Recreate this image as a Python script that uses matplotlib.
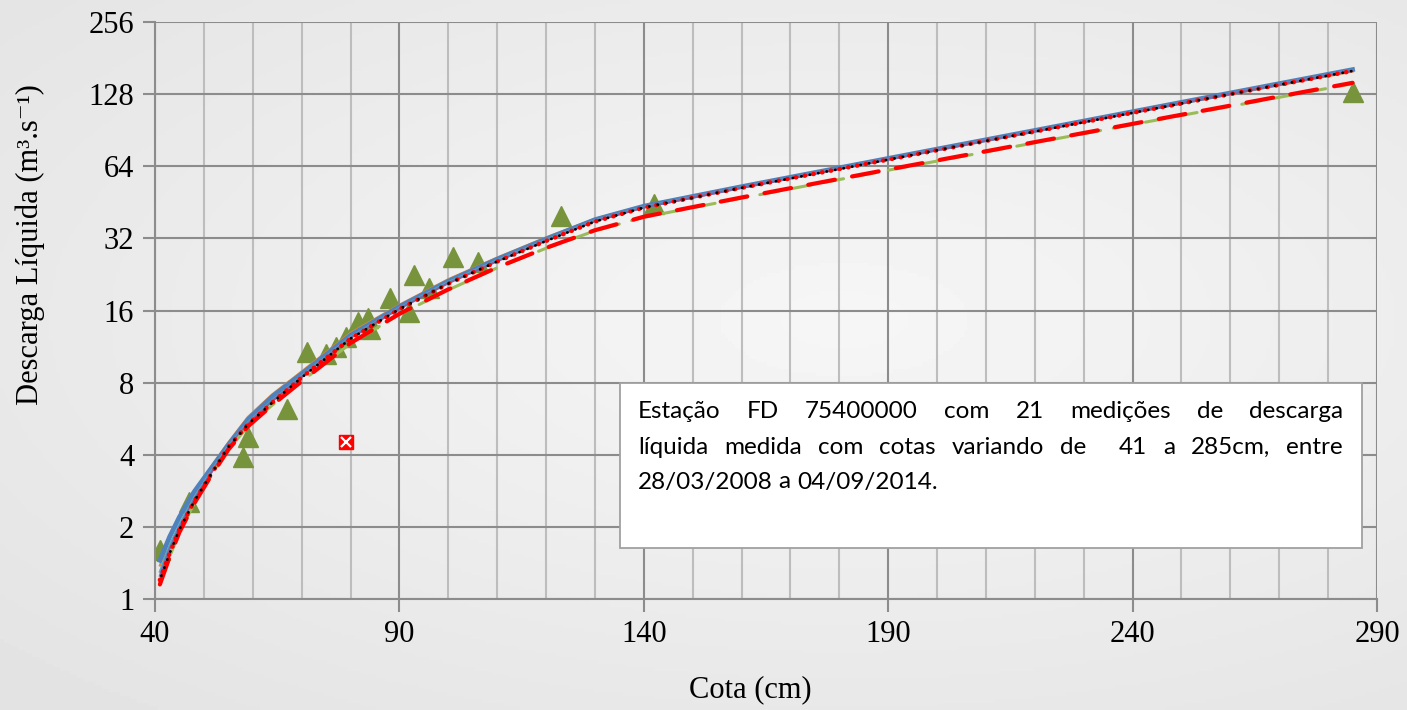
import numpy as np
import matplotlib.pyplot as plt
from matplotlib.patches import Rectangle

# measured discharges (cota cm, Q m3/s)
cota_med = [41, 47, 58, 59, 67, 71, 75, 77, 79, 81.5, 83.5, 84, 88, 92, 93, 96, 101, 106, 123, 142, 285]
q_med = [1.6, 2.55, 3.9, 4.75, 6.2, 10.7, 10.5, 11.3, 12.4, 14.3, 14.9, 13.4, 18.0, 15.8, 22.4, 19.9, 26.8, 25.5, 39.5, 44.5, 131]

# discarded measurement
cota_out = [79]
q_out = [4.5]

# rating curves
cota_curva = [41, 43, 45, 48, 51, 55, 59, 64, 70, 80, 90, 100, 110, 120, 130, 140, 160, 190, 220, 250, 285]
q_azul = [1.45, 1.82, 2.2, 2.8, 3.4, 4.4, 5.6, 7.0, 8.7, 12.6, 16.6, 21.2, 26.2, 31.8, 38.3, 43.6, 52.6, 69.0, 90.3, 118.3, 162]
q_laranja = [1.38, 1.78, 2.18, 2.8, 3.45, 4.5, 5.75, 7.15, 8.9, 12.9, 16.9, 21.6, 26.6, 32.3, 38.6, 43.8, 52.6, 68.6, 89.5, 117, 159]
q_ciano = [1.3, 1.68, 2.05, 2.65, 3.3, 4.35, 5.45, 6.75, 8.5, 12.4, 16.4, 21.0, 25.9, 31.5, 38.0, 43.3, 52.3, 68.6, 89.8, 117.8, 161]
q_roxo = [1.25, 1.62, 2.0, 2.6, 3.25, 4.3, 5.4, 6.7, 8.45, 12.3, 16.3, 20.8, 25.7, 31.3, 37.8, 43.1, 52.1, 68.4, 89.6, 117.5, 160.5]
q_verde = [1.16, 1.5, 1.9, 2.5, 3.15, 4.2, 5.25, 6.45, 8.1, 11.65, 15.4, 19.5, 24.1, 29.1, 34.4, 39.2, 47.1, 61.6, 80.2, 104.3, 141.5]
q_pontilhado = [1.2, 1.55, 1.95, 2.55, 3.2, 4.3, 5.35, 6.6, 8.4, 12.2, 16.2, 20.7, 25.6, 31.2, 37.6, 43.0, 52.0, 68.2, 89.3, 117, 160]
q_tracejado = [1.15, 1.5, 1.9, 2.5, 3.15, 4.2, 5.25, 6.45, 8.1, 11.7, 15.5, 19.6, 24.2, 29.2, 34.6, 39.4, 47.4, 62.0, 80.7, 105, 142.7]

xticks = [40, 90, 140, 190, 240, 290]
yticks = [1, 2, 4, 8, 16, 32, 64, 128, 256]

texto = ["Estação FD 75400000 com 21 medições de descarga",
         "líquida medida com cotas variando de  41 a 285cm, entre",
         "28/03/2008 a 04/09/2014."]

plt.rcParams['font.family'] = ['Liberation Serif', 'DejaVu Serif']

W, H = 1407, 710
fig = plt.figure(figsize=(W / 100, H / 100), dpi=100)

# soft gray background
bg = fig.add_axes([0, 0, 1, 1], zorder=-10)
yy, xx = np.mgrid[0:1:200j, 0:1:400j]
d = np.sqrt(((xx - 0.6) / 1.0) ** 2 + ((yy - 0.45) / 0.9) ** 2)
bg.imshow(0.965 - 0.09 * d, cmap='gray', vmin=0, vmax=1, aspect='auto', extent=[0, 1, 0, 1])
bg.set_axis_off()

ax = fig.add_axes([155 / W, 1 - 599 / H, (1377 - 155) / W, (599 - 22) / H])
ax.set_facecolor('none')

ax.plot(cota_curva, q_laranja, color='#E0883A', lw=1.6, zorder=3)
ax.plot(cota_curva, q_azul, color='#4F81BD', lw=3.4, zorder=4)
ax.plot(cota_curva, q_ciano, color='#4BACC6', lw=1.6, zorder=5)
ax.plot(cota_curva, q_roxo, color='#8064A2', lw=1.6, zorder=5)
ax.plot(cota_curva, q_verde, color='#9BBB59', lw=2.2, ls=(0, (6.5, 4.2)),
        dash_capstyle='round', zorder=5)
ax.plot(cota_curva, q_tracejado, color='#FF0000', lw=3.0, ls=(0, (6.5, 4.2)),
        dash_capstyle='round', zorder=6)
ax.plot(cota_curva, q_pontilhado, color='#FF0000', lw=3.2, ls=(0, (0.1, 1.9)),
        dash_capstyle='round', zorder=7)
ax.plot(cota_curva, q_pontilhado, color='black', lw=2.0, ls=(1.5, (0.1, 3.0)),
        dash_capstyle='round', zorder=8)

ax.plot(cota_med, q_med, ls='none', marker='^', ms=14, color='#77933C', zorder=2)
ax.plot(cota_out, q_out, ls='none', marker='s', ms=10, color='#FF0000', zorder=9)
ax.plot(cota_out, q_out, ls='none', marker='x', ms=7, mew=1.6, color='white', zorder=10)

ax.set_yscale('log', base=2)
ax.set_xlim(40, 290)
ax.set_ylim(1, 256)
ax.set_xticks(xticks)
ax.set_xticks(np.arange(50, 290, 10), minor=True)
ax.set_yticks(yticks)
ax.set_yticklabels([str(v) for v in yticks])
ax.yaxis.set_minor_locator(plt.NullLocator())

ax.grid(which='major', color='#8c8c8c', lw=1.5, zorder=0)
ax.grid(which='minor', axis='x', color='#bdbdbd', lw=1.5, zorder=0)
ax.set_axisbelow(True)
for s in ['top', 'right']:
    ax.spines[s].set_visible(False)
for s in ['left', 'bottom']:
    ax.spines[s].set_color('#8c8c8c')
    ax.spines[s].set_linewidth(1.5)
ax.tick_params(which='major', length=9, width=1.5, color='#8c8c8c', labelsize=22, pad=6)
ax.tick_params(which='minor', length=0)

ax.set_xlabel('Cota (cm)', fontsize=22)
ax.xaxis.set_label_coords((750 - 155) / 1222, -(690 - 599) / 577)
ax.set_ylabel('Descarga Líquida (m³.s⁻¹)', fontsize=22)
ax.yaxis.set_label_coords((30 - 155) / 1222, (599 - 245) / 577)
ax.xaxis.label.set_va('center')
ax.yaxis.label.set_va('center')

# text box
caixa = Rectangle((620 / W, 1 - 548 / H), (1362 - 620) / W, (548 - 383) / H,
                  transform=fig.transFigure, facecolor='white', edgecolor='#a0a0a0',
                  lw=1.3, zorder=5)
fig.add_artist(caixa)

fig.canvas.draw()
r = fig.canvas.get_renderer()
x0, x1 = 638, 1343
linhas_y = [412, 447, 482]
for i, linha in enumerate(texto):
    palavras = linha.split(' ')
    ts = [fig.text(0, 0, p, fontsize=17.5, family=['Lato', 'DejaVu Sans'], va='center',
                   ha='left', zorder=6) for p in palavras]
    larg = [t.get_window_extent(r).width for t in ts]
    if i < len(texto) - 1:
        gap = (x1 - x0 - sum(larg)) / (len(palavras) - 1)
    else:
        gap = 6
    x = x0
    for t, w in zip(ts, larg):
        t.set_position((x / W, 1 - linhas_y[i] / H))
        x += w + gap

fig.savefig('out.png', dpi=100)
